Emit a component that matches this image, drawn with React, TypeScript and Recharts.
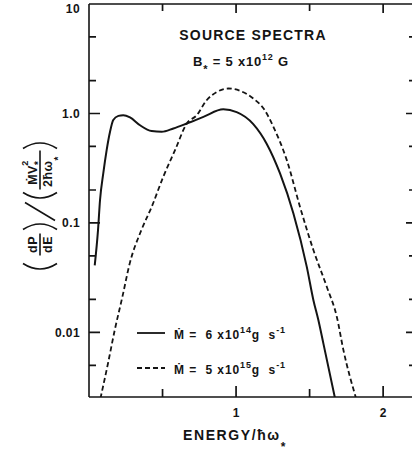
import React from 'react'
import { LineChart, Line, XAxis, YAxis, Legend, Label } from 'recharts'

// spectrum for Mdot = 6e14 g/s (solid)
const LOW_E = [0.039, 0.061, 0.075, 0.097, 0.12, 0.143, 0.165, 0.2, 0.233, 0.279, 0.347, 0.426, 0.494, 0.574, 0.665, 0.778, 0.913, 1.004, 1.117, 1.208, 1.299, 1.39, 1.481, 1.526, 1.56, 1.594, 1.673]
const LOW_P = [0.041, 0.085, 0.162, 0.283, 0.462, 0.68, 0.87, 0.95, 0.965, 0.92, 0.78, 0.69, 0.68, 0.73, 0.81, 0.93, 1.09, 1.03, 0.8, 0.53, 0.283, 0.122, 0.0397, 0.0197, 0.0129, 0.0079, 0.0025]

// spectrum for Mdot = 5e15 g/s (dashed)
const HIGH_E = [0.078, 0.129, 0.175, 0.227, 0.277, 0.356, 0.426, 0.505, 0.585, 0.665, 0.733, 0.8, 0.868, 0.948, 1.027, 1.117, 1.195, 1.254, 1.345, 1.435, 1.526, 1.617, 1.685, 1.73, 1.816]
const HIGH_P = [0.0025, 0.0052, 0.0105, 0.0211, 0.0427, 0.0859, 0.14, 0.264, 0.462, 0.81, 0.965, 1.32, 1.57, 1.69, 1.61, 1.37, 1.07, 0.755, 0.375, 0.14, 0.0565, 0.0261, 0.0139, 0.0069, 0.0025]

const X_DOMAIN = [0, 2.21]
const Y_DOMAIN = [0.00257, 10]
const X_TICKS = [0.5, 1, 1.5, 2]
const X_LABELS = [1, 2]
const Y_TICKS = [10, 5, 2, 1, 0.5, 0.2, 0.1, 0.05, 0.02, 0.01, 0.005]
const Y_LABELS: Record<string, string> = { '10': '10', '1': '1.0', '0.1': '0.1', '0.01': '0.01' }

const SERIES = [
  { key: 'low', mdot: '6', exp: '14', dash: undefined as string | undefined },
  { key: 'high', mdot: '5', exp: '15', dash: '5 3' },
]

const lowData = LOW_E.map((e, i) => ({ e, v: LOW_P[i] }))
const highData = HIGH_E.map((e, i) => ({ e, v: HIGH_P[i] }))

const W = 412
const H = 453
const MARGIN = { top: 4, right: -2, bottom: 6, left: 0 }
const Y_AXIS_W = 89
const X_AXIS_H = 50
const PLOT_W = W - MARGIN.left - MARGIN.right - Y_AXIS_W

const INK = '#141414'
const FONT = '"Liberation Sans", "DejaVu Sans", Arial, sans-serif'
const AXIS_LINE = { stroke: INK, strokeWidth: 1.6 }

const LeftTick = ({ x, y, payload }: any) => {
  const label = Y_LABELS[String(payload.value)]
  if (!label) return <g />
  return (
    <text x={x - 9} y={y + (payload.value === 10 ? 9 : 4.5)} textAnchor="end"
      fontFamily={FONT} fontSize={12} fontWeight={700} letterSpacing={0.4} fill={INK}>
      {label}
    </text>
  )
}

const BottomTick = ({ x, y, payload }: any) => {
  if (!X_LABELS.includes(payload.value)) return <g />
  return (
    <text x={x} y={y + 20} textAnchor="middle" fontFamily={FONT} fontSize={12} fontWeight={700} fill={INK}>
      {payload.value}
    </text>
  )
}

// top border and inward tick marks on all four sides, as one path,
// placed from the y-axis box with the same linear / log mapping as the axes
const framePath = (viewBox: any) => {
  const l = viewBox.x + viewBox.width
  const t = viewBox.y
  const b = viewBox.y + viewBox.height
  const r = l + PLOT_W
  const sx = (e: number) => l + ((e - X_DOMAIN[0]) / (X_DOMAIN[1] - X_DOMAIN[0])) * PLOT_W
  const ly0 = Math.log10(Y_DOMAIN[0])
  const ly1 = Math.log10(Y_DOMAIN[1])
  const sy = (v: number) => t + ((ly1 - Math.log10(v)) / (ly1 - ly0)) * (b - t)
  let d = `M${l},${t}L${r},${t}`
  Y_TICKS.forEach((v) => {
    const major = Y_LABELS[String(v)] !== undefined
    const y = sy(v)
    d += `M${l},${y}L${l + (major ? 11 : 7)},${y}`
    d += `M${r},${y}L${r - (major ? 8 : 5)},${y}`
  })
  X_TICKS.forEach((e) => {
    const major = X_LABELS.includes(e)
    const x = sx(e)
    d += `M${x},${b}L${x},${b - (major ? 11 : 8)}`
    d += `M${x},${t}L${x},${t + (major ? 9 : 7)}`
  })
  return d
}

const XTitle = ({ viewBox }: any) => (
  <text x={viewBox.x + 94} y={viewBox.y + 43} fontFamily={FONT} fontSize={14} fontWeight={700}
    letterSpacing={1.6} fill={INK}>
    ENERGY/ħω<tspan dy={11} fontSize={12}>*</tspan>
  </text>
)

const YTitle = ({ viewBox }: any) => {
  const cx = viewBox.x + 40
  const cy = viewBox.y + viewBox.height / 2 + 6
  const s = { fill: 'none', stroke: INK, strokeWidth: 1.6 }
  return (
    <g>
      <g transform="translate(0.01,0.01)">
        <path d={framePath(viewBox)} fill="none" stroke={INK} strokeWidth={1.7} />
      </g>
      <g transform={`translate(${cx},${cy}) rotate(-90)`} fontFamily={FONT} fontSize={12.5} fontWeight={700} fill={INK}>
        <path d="M -57,-17 Q -68,0 -57,17" {...s} />
        <text x={-38} y={-3} textAnchor="middle" letterSpacing={0.5}>dP</text>
        <line x1={-49} x2={-27} y1={0} y2={0} {...s} />
        <text x={-38} y={12} textAnchor="middle" letterSpacing={0.5}>dE</text>
        <path d="M -23,-17 Q -12,0 -23,17" {...s} />
        <line x1={-14} y1={15} x2={4} y2={-15} {...s} />
        <path d="M 14,-17 Q 3,0 14,17" {...s} />
        <text x={34} y={-3} textAnchor="middle" letterSpacing={0.5}>
          ṀV<tspan dy={4.5} fontSize={10}>*</tspan>
          <tspan dx={-5} dy={-13.5} fontSize={9}>2</tspan>
        </text>
        <line x1={17} x2={56} y1={0} y2={0} {...s} />
        <text x={35} y={12} textAnchor="middle" letterSpacing={0.5}>
          2ħω<tspan dy={9.5} fontSize={10}>*</tspan>
        </text>
        <path d="M 58,-17 Q 69,0 58,17" {...s} />
      </g>
    </g>
  )
}

const renderLegend = () => (
  <svg width={180} height={70} style={{ display: 'block' }}>
    {SERIES.map((s, i) => {
      const cy = 17 + i * 35
      return (
        <g key={s.key}>
          <line x1={7} x2={35} y1={cy} y2={cy} stroke={INK} strokeWidth={1.8} strokeDasharray={s.dash} />
          <text x={44} y={cy + 6} fontFamily={FONT} fontSize={12} fontWeight={700} letterSpacing={0.9} fill={INK}
            style={{ whiteSpace: 'pre' }}>
            {`Ṁ =  ${s.mdot} x10`}
            <tspan dy={-6} fontSize={9}>{s.exp}</tspan>
            <tspan dy={6}>{'g  s'}</tspan>
            <tspan dy={-6} fontSize={9}>-1</tspan>
          </text>
        </g>
      )
    })}
  </svg>
)

export default function App() {
  return (
    <div style={{ position: 'absolute', left: 0, top: 0, width: W, height: H, overflow: 'hidden', background: '#fff' }}>
      <LineChart width={W} height={H} margin={MARGIN}>
        <XAxis type="number" dataKey="e" domain={X_DOMAIN} ticks={X_TICKS} interval={0}
          allowDataOverflow height={X_AXIS_H} tickSize={0} tickMargin={0} tickLine={false} tick={BottomTick}
          axisLine={AXIS_LINE}>
          <Label content={XTitle} />
        </XAxis>
        <YAxis type="number" dataKey="v" scale="log" domain={Y_DOMAIN} ticks={Y_TICKS} interval={0}
          allowDataOverflow width={Y_AXIS_W} tickSize={0} tickMargin={0} tickLine={false} tick={LeftTick}
          axisLine={AXIS_LINE}>
          <Label content={YTitle} />
        </YAxis>
        <Legend layout="vertical" align="center" verticalAlign="middle" content={renderLegend}
          wrapperStyle={{ left: 130, top: 316, width: 180, height: 70 }} />
        <Line data={lowData} dataKey="v" name="low" type="monotone" stroke={INK}
          strokeWidth={2} dot={false} isAnimationActive={false} />
        <Line data={highData} dataKey="v" name="high" type="monotone" stroke={INK}
          strokeWidth={1.8} strokeDasharray="5 3" dot={false} isAnimationActive={false} />
      </LineChart>
      <svg width={W} height={H} style={{ position: 'absolute', left: 0, top: 0, pointerEvents: 'none' }}>
        <text x={253} y={40} textAnchor="middle" fontFamily={FONT} fontSize={14} fontWeight={700}
          letterSpacing={1.2} fill={INK}>
          SOURCE SPECTRA
        </text>
        <text x={241} y={66} textAnchor="middle" fontFamily={FONT} fontSize={13} fontWeight={700}
          letterSpacing={0.8} fill={INK} style={{ whiteSpace: 'pre' }}>
          B<tspan dy={7} fontSize={11}>*</tspan>
          <tspan dy={-7}>{' = 5 x10'}</tspan>
          <tspan dy={-6} fontSize={9}>12</tspan>
          <tspan dy={6}>{' G'}</tspan>
        </text>
      </svg>
    </div>
  )
}
